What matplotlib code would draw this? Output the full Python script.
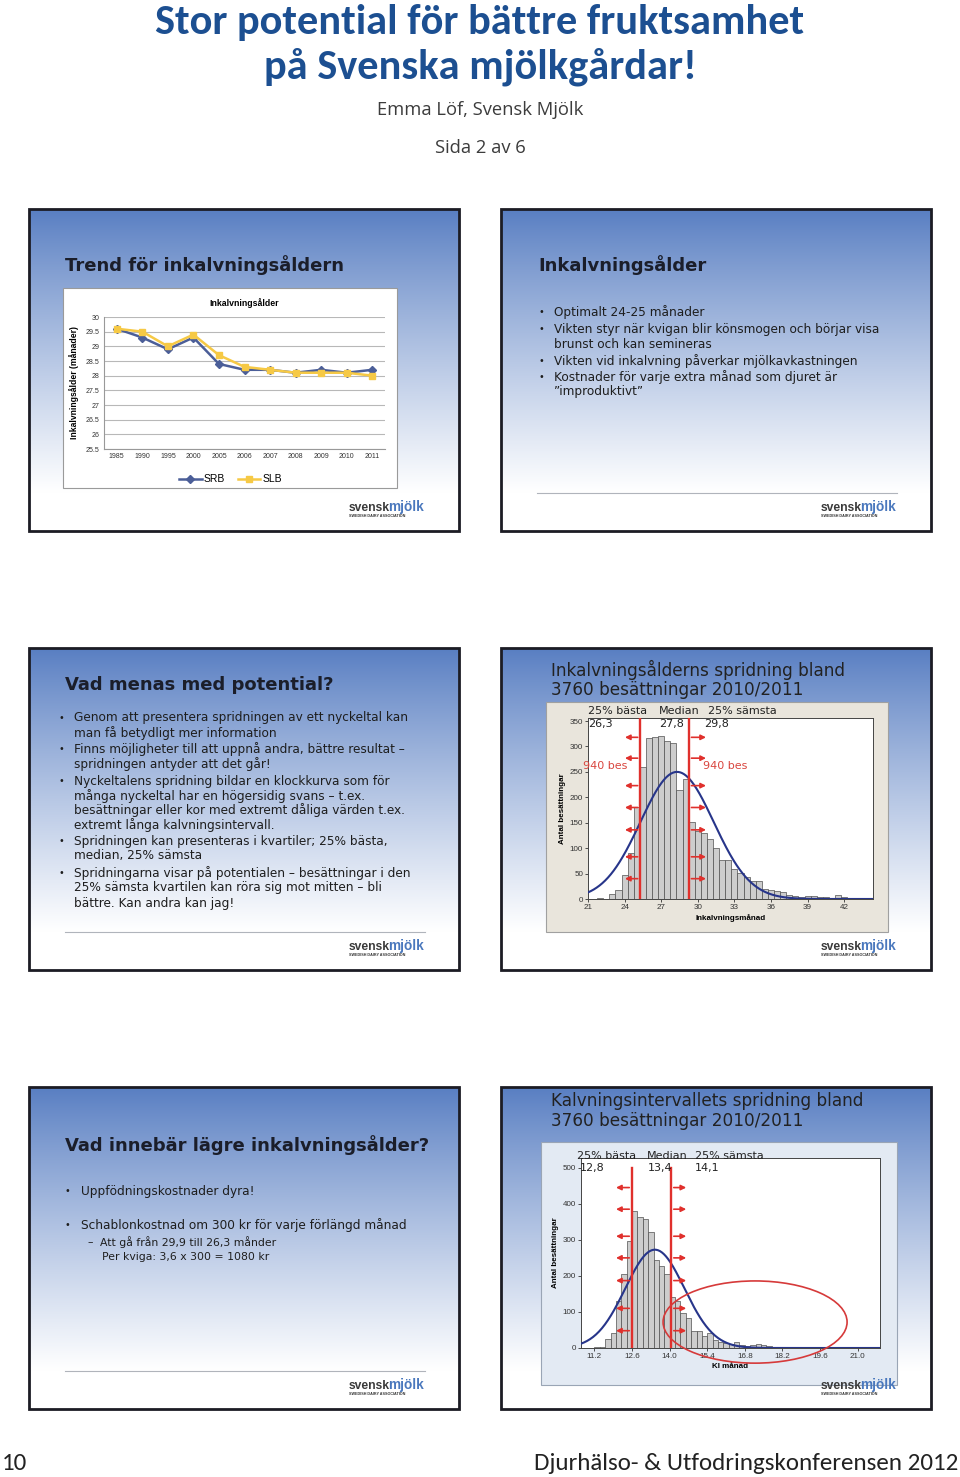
import numpy as np
import matplotlib
matplotlib.use("Agg")
import matplotlib.pyplot as plt
from matplotlib import font_manager
from matplotlib.patches import Rectangle, Ellipse

installed = {f.name for f in font_manager.fontManager.ttflist}
NARROW = next((f for f in ["Carlito", "Liberation Sans Narrow", "Lato"] if f in installed), "DejaVu Sans")
plt.rcParams['font.family'] = ['Liberation Sans', 'DejaVu Sans']
SLIDE_FONT = ['DejaVu Sans']

W, H = 960, 1477

# --- trend chart (slide 1) ---
years = ["1985", "1990", "1995", "2000", "2005", "2006", "2007", "2008", "2009", "2010", "2011"]
srb_age = [29.6, 29.3, 28.9, 29.3, 28.4, 28.2, 28.2, 28.1, 28.2, 28.1, 28.2]
slb_age = [29.6, 29.5, 29.0, 29.4, 28.7, 28.3, 28.2, 28.1, 28.1, 28.1, 28.0]

# --- inkalvningsålder histogram (slide 4), bins of 0.5 month from 22.0 ---
ia_first = 22.0
ia_bin = 0.5
ia_counts = [2, 0, 10, 18, 47, 90, 180, 259, 316, 318, 320, 310, 306, 214, 236,
             151, 134, 130, 118, 101, 77, 77, 59, 51, 43, 35, 35, 20, 17, 15, 13,
             7, 5, 4, 5, 5, 4, 3, 1, 7, 3, 2, 2, 1, 1]
ia_mean, ia_sd = 28.3, 3.0
ia_lines = [25.3, 29.25]
ia_values = ["26,3", "27,8", "29,8"]
ia_arrow_y = [318, 277, 223, 180, 136, 83, 40]

# --- kalvningsintervall histogram (slide 6), bins of 0.2 month from 11.0 ---
ki_first = 11.0
ki_bin = 0.2
ki_counts = [1, 2, 4, 25, 41, 130, 204, 297, 380, 364, 358, 322, 244, 228, 206,
             141, 129, 96, 83, 46, 48, 32, 42, 23, 18, 14, 10, 16, 8, 6, 8, 10,
             7, 5, 4, 3, 2, 2, 1, 1, 1, 0, 1, 0, 1, 0, 2, 0, 1, 0, 1, 1, 1, 1]
ki_mean, ki_sd = 13.45, 1.1
ki_lines = [12.6, 14.05]
ki_values = ["12,8", "13,4", "14,1"]
ki_arrow_y = [445, 385, 310, 250, 187, 110, 48]

quart_labels = ["25% bästa", "Median", "25% sämsta"]
n_herds = 3760

RED = '#e0302c'
CURVE = '#27358a'
BAR = '#cdcdcd'

fig = plt.figure(figsize=(W / 100, H / 100), dpi=100)
page = fig.add_axes([0, 0, 1, 1])
page.axis('off')


def px_axes(x0, y0, x1, y1):
    return fig.add_axes([x0 / W, 1 - y1 / H, (x1 - x0) / W, (y1 - y0) / H])


# gradient slide background: blue at top fading to white
top = np.array([88, 126, 194]) / 255.0
t = np.linspace(0, 1, 200)
s = np.clip(t / 0.88, 0, 1) ** 0.9
grad = (top[None, :] * (1 - s[:, None]) + s[:, None])[:, None, :]

slides = [(29, 209), (501, 209), (29, 648), (501, 648), (29, 1087), (501, 1087)]
SW, SH = 430, 322
for x0, y0 in slides:
    page.imshow(grad, extent=(x0, x0 + SW, y0 + SH, y0), aspect='auto', zorder=0)
    page.add_patch(Rectangle((x0, y0), SW, SH, fill=False, ec='#1c1c24', lw=2, zorder=3))
    # logo
    lx, ly = x0 + SW - 110, y0 + SH - 20
    page.text(lx, ly, "svensk", fontsize=8.7, fontweight='bold', color='#3a3a3a',
              ha='left', va='baseline', zorder=4)
    page.text(lx + 39.5, ly, "mjölk", fontsize=9.8, fontweight='bold', color='#4a78bd',
              ha='left', va='baseline', zorder=4)
    page.text(lx, ly + 5, "SWEDISH DAIRY ASSOCIATION", fontsize=2.7, fontweight='bold',
              color='#333', ha='left', va='center', zorder=4)

# separator lines
for x0, y0 in [(501, 209), (29, 648), (29, 1087)]:
    page.plot([x0 + 36, x0 + 396], [y0 + 284, y0 + 284], color='#b0b4bb', lw=0.8, zorder=2)

# page header
page.text(480, 34, "Stor potential för bättre fruktsamhet", fontsize=30.5, fontweight='bold',
          color='#1c4f91', ha='center', va='baseline', family=[NARROW, 'DejaVu Sans'])
page.text(480, 78, "på Svenska mjölkgårdar!", fontsize=30.5, fontweight='bold',
          color='#1c4f91', ha='center', va='baseline', family=[NARROW, 'DejaVu Sans'])
page.text(480, 110, "Emma Löf, Svensk Mjölk", fontsize=13.2, color='#3c3c3c',
          ha='center', va='center', family=['Open Sans', 'DejaVu Sans'])
page.text(480, 148, "Sida 2 av 6", fontsize=13.2, color='#3c3c3c',
          ha='center', va='center', family=['Open Sans', 'DejaVu Sans'])

# footer
page.text(2, 1463, "10", fontsize=18, color='#222', ha='left', va='center',
          family=[NARROW, 'DejaVu Sans'])
page.text(958, 1463, "Djurhälso- & Utfodringskonferensen 2012", fontsize=18, color='#222',
          ha='right', va='center', family=[NARROW, 'DejaVu Sans'])

TITLE_C = '#1b1e2a'
TXT_C = '#1e1e1e'


def slide_title(x, y, txt, bold=True, size=13):
    page.text(x, y, txt, fontsize=size, fontweight='bold' if bold else 'normal',
              color=TITLE_C if bold else '#222', ha='left', va='center', zorder=4,
              family=SLIDE_FONT)


slide_title(65, 265, "Trend för inkalvningsåldern")
slide_title(538, 265, "Inkalvningsålder")
slide_title(65, 685, "Vad menas med potential?")
slide_title(65, 1145, "Vad innebär lägre inkalvningsålder?")
slide_title(551, 670, "Inkalvningsålderns spridning bland", bold=False, size=12.2)
slide_title(551, 690, "3760 besättningar 2010/2011", bold=False, size=12.2)
slide_title(551, 1101, "Kalvningsintervallets spridning bland", bold=False, size=12.2)
slide_title(551, 1121, "3760 besättningar 2010/2011", bold=False, size=12.2)


def bullet_lines(xb, xt, lines, size=8.7):
    for y, txt, dot in lines:
        if dot:
            page.text(xb, y, "•", fontsize=size * 0.8, color=TXT_C, ha='left', va='center',
                      zorder=4, family=SLIDE_FONT)
        page.text(xt, y, txt, fontsize=size, color=TXT_C, ha='left', va='center', zorder=4,
                  family=SLIDE_FONT)


bullet_lines(538, 554, [
    (312, "Optimalt 24-25 månader", True),
    (329, "Vikten styr när kvigan blir könsmogen och börjar visa", True),
    (344, "brunst och kan semineras", False),
    (361, "Vikten vid inkalvning påverkar mjölkavkastningen", True),
    (377, "Kostnader för varje extra månad som djuret är", True),
    (392, "”improduktivt”", False),
])

bullet_lines(59, 74, [
    (718, "Genom att presentera spridningen av ett nyckeltal kan", True),
    (733, "man få betydligt mer information", False),
    (749, "Finns möjligheter till att uppnå andra, bättre resultat –", True),
    (764, "spridningen antyder att det går!", False),
    (781, "Nyckeltalens spridning bildar en klockkurva som för", True),
    (796, "många nyckeltal har en högersidig svans – t.ex.", False),
    (810, "besättningar eller kor med extremt dåliga värden t.ex.", False),
    (825, "extremt långa kalvningsintervall.", False),
    (841, "Spridningen kan presenteras i kvartiler; 25% bästa,", True),
    (856, "median, 25% sämsta", False),
    (873, "Spridningarna visar på potentialen – besättningar i den", True),
    (888, "25% sämsta kvartilen kan röra sig mot mitten – bli", False),
    (903, "bättre. Kan andra kan jag!", False),
])

bullet_lines(65, 81, [
    (1191, "Uppfödningskostnader dyra!", True),
    (1225, "Schablonkostnad om 300 kr för varje förlängd månad", True),
])
page.text(87, 1242, "–", fontsize=7.8, color=TXT_C, ha='left', va='center', zorder=4,
          family=SLIDE_FONT)
page.text(100, 1242, "Att gå från 29,9 till 26,3 månder", fontsize=7.8, color=TXT_C,
          ha='left', va='center', zorder=4, family=SLIDE_FONT)
page.text(102, 1257, "Per kviga: 3,6 x 300 = 1080 kr", fontsize=7.8, color=TXT_C,
          ha='left', va='center', zorder=4, family=SLIDE_FONT)

# chart panels
page.add_patch(Rectangle((63, 288), 334, 200, fc='white', ec='#9a9a9a', lw=0.8, zorder=2))
page.add_patch(Rectangle((546, 702), 342, 230, fc='#e9e5dc', ec='#a0a0a0', lw=0.8, zorder=2))
page.add_patch(Rectangle((541, 1142), 356, 243, fc='#e3eaf3', ec='#9aa5b5', lw=0.8, zorder=2))

page.set_xlim(0, W)
page.set_ylim(H, 0)

# ---- slide 1: line chart ----
ax1 = px_axes(104, 317, 385, 449)
xpos = np.arange(len(years))
ax1.plot(xpos, srb_age, color='#4b5e98', lw=1.8, marker='D', ms=4, label='SRB', zorder=3)
ax1.plot(xpos, slb_age, color='#f6c945', lw=1.8, marker='s', ms=5, label='SLB', zorder=4)
ax1.set_xlim(-0.5, len(years) - 0.5)
ax1.set_ylim(25.5, 30)
ax1.set_yticks(np.arange(25.5, 30.01, 0.5))
ax1.set_yticklabels(["%g" % v for v in np.arange(25.5, 30.01, 0.5)])
ax1.set_xticks(xpos)
ax1.set_xticklabels(years)
ax1.tick_params(labelsize=5, length=0, pad=3, colors='#333')
ax1.grid(axis='y', color='#b8b8b8', lw=0.8)
ax1.set_axisbelow(True)
for sp in ['top', 'right']:
    ax1.spines[sp].set_visible(False)
for sp in ['left', 'bottom']:
    ax1.spines[sp].set_color('#999')
ax1.set_title("Inkalvningsålder", fontsize=6.3, fontweight='bold', pad=8)
ax1.set_ylabel("Inkalvningsålder (månader)", fontsize=6.2, fontweight='bold', labelpad=5)
ax1.legend(loc='upper center', bbox_to_anchor=(0.45, -0.12), ncol=2, frameon=False,
           fontsize=7.5, handlelength=2.2, columnspacing=1.2, handletextpad=0.2)


def histogram(ax, first, width, counts, mean, sd, lines, line_top, values, arrow_y,
              arrow_len, xlim, ylim, xticks, xfmt, yticks, xlabel,
              label_x, value_x, label_y, value_y):
    centers = first + width * np.arange(len(counts))
    ax.bar(centers, counts, width=width, color=BAR, edgecolor='#505050', lw=0.5, zorder=2)
    xs = np.linspace(xlim[0], xlim[1], 300)
    peak = n_herds * width / (sd * np.sqrt(2 * np.pi))
    ax.plot(xs, peak * np.exp(-0.5 * ((xs - mean) / sd) ** 2), color=CURVE, lw=1.5, zorder=3)
    for xl in lines:
        ax.plot([xl, xl], [0, line_top], color=RED, lw=1.7, zorder=4)
    for y in arrow_y:
        ax.annotate('', xy=(lines[0] - arrow_len[0], y), xytext=(lines[0], y),
                    arrowprops=dict(arrowstyle='-|>', color=RED, lw=1.2, mutation_scale=7.5),
                    zorder=5)
        ax.annotate('', xy=(lines[1] + arrow_len[1], y), xytext=(lines[1], y),
                    arrowprops=dict(arrowstyle='-|>', color=RED, lw=1.2, mutation_scale=7.5),
                    zorder=5)
    ax.set_xlim(*xlim)
    ax.set_ylim(*ylim)
    ax.set_xticks(xticks)
    ax.set_xticklabels([xfmt % v for v in xticks])
    ax.set_yticks(yticks)
    ax.tick_params(labelsize=5.8, length=2, pad=1.5, colors='#333', width=0.6)
    for sp in ax.spines.values():
        sp.set_color('#444')
        sp.set_linewidth(0.7)
    ax.set_xlabel(xlabel, fontsize=5.8, fontweight='bold', labelpad=2)
    ax.set_ylabel("Antal besättningar", fontsize=5.8, fontweight='bold', labelpad=3)
    tr = ax.get_xaxis_transform()
    for lx, txt in zip(label_x, quart_labels):
        ax.text(lx, label_y, txt, transform=tr, fontsize=8, color='#222', family=SLIDE_FONT,
                ha='left', va='center', clip_on=False, zorder=6)
    for vx, txt in zip(value_x, values):
        ax.text(vx, value_y, txt, transform=tr, fontsize=8, color='#222', family=SLIDE_FONT,
                ha='left', va='center', clip_on=False, zorder=6)


# ---- slide 4: inkalvningsålder ----
ax4 = px_axes(588, 718, 873, 899)
histogram(ax4, ia_first, ia_bin, ia_counts, ia_mean, ia_sd, ia_lines, 356, ia_values,
          ia_arrow_y, (1.5, 1.65), (21, 44.36), (0, 356), [21, 24, 27, 30, 33, 36, 39, 42],
          "%d", np.arange(0, 351, 50), "Inkalvningsmånad",
          [21.0, 26.78, 30.87], [21.0, 26.8, 30.5], 1.04, 0.965)
ax4.text(20.6, 262, "940 bes", fontsize=8, color='#d9463f', ha='left', va='center',
         clip_on=False, zorder=6, family=SLIDE_FONT)
ax4.text(30.45, 262, "940 bes", fontsize=8, color='#d9463f', ha='left', va='center',
         clip_on=False, zorder=6, family=SLIDE_FONT)

# ---- slide 6: kalvningsintervall ----
ax6 = px_axes(581, 1158, 880, 1348)
histogram(ax6, ki_first + ki_bin / 2, ki_bin, ki_counts, ki_mean, ki_sd, ki_lines, 500,
          ki_values, ki_arrow_y, (0.7, 0.67), (10.7, 21.83), (0, 527),
          [11.2, 12.6, 14.0, 15.4, 16.8, 18.2, 19.6, 21.0], "%.1f",
          np.arange(0, 501, 100), "KI månad",
          [10.54, 13.15, 14.94], [10.67, 13.18, 14.94], 1.01, 0.947)
ax6.add_patch(Ellipse((17.18, 72), 6.85, 228, fill=False, ec='#d63a3a', lw=1.2,
                      clip_on=False, zorder=6))

fig.savefig("out.png", dpi=100)
